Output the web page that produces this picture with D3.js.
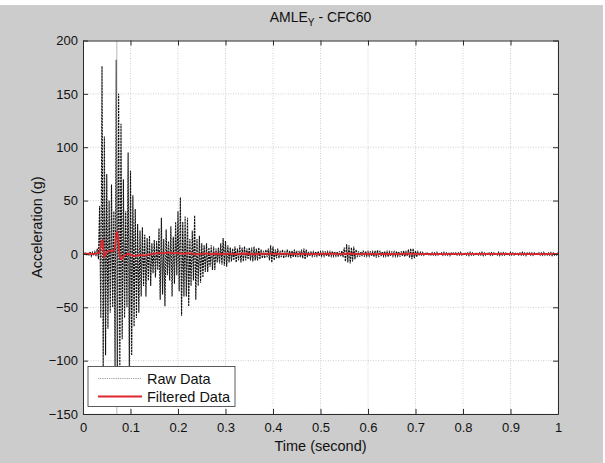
<!DOCTYPE html>
<html>
<head>
<meta charset="utf-8">
<script src="https://cdn.jsdelivr.net/npm/d3@7"></script>
<style>
  body { margin: 0; background: #fff; }
  svg { display: block; font-family: "Liberation Sans", Arial, sans-serif; }
</style>
</head>
<body>
<svg id="chart"></svg>
<script>
const rawStep = 0.005;
const rawHigh = [
  1, 1.5, 1, 2, 1.5, 2, 5, 45, 176, 110,
  75, 50, 65, 40, 182, 150, 122, 70, 40, 95,
  78, 55, 42, 28, 22, 25, 18, 15, 17, 10,
  13, 12, 24, 34, 14, 23, 12, 26, 16, 30,
  40, 53, 30, 35, 34, 14, 22, 36, 14, 17,
  10, 8, 10, 6, 8, 7, 5, 6, 10, 15,
  12, 8, 6, 5, 7, 5, 8, 6, 7, 5,
  6,
  6, 7, 5, 6, 4, 3, 4, 5, 8, 7,
  4, 5, 3, 4, 3, 4, 3, 3, 4, 3,
  3, 4, 5, 4, 2, 2.5, 2, 2, 2.5, 2,
  2, 2.5, 2, 2, 2.5, 2, 2, 2.5, 3, 6,
  9, 8, 6, 7, 4, 2.5, 2, 3, 2.5, 2,
  2.5, 2, 3, 3.5, 3, 2, 2.5, 2, 2, 2.5,
  2, 2.5, 2, 2.5, 3, 2, 4, 5, 5, 3,
  2, 1.5, 1.5, 1, 1.5, 1, 1.2, 1, 1.5, 1,
  1, 1.5, 1, 1.2, 1, 1.5, 1, 1, 1.5, 1,
  1.2, 1, 1.5, 1, 1, 1.2, 1, 1.5, 1, 1,
  1, 1.2, 1, 1, 1.5, 1, 1.2, 1, 1, 1.5,
  1, 1, 1.2, 1, 1.5, 1, 1, 1.2, 1, 1,
  1.2, 1, 1, 1.5, 1, 1, 1.2, 1, 1, 1
];
const rawLow = [
  -1, -1.5, -1, -2, -1.5, -2, -5, -60, -108, -95,
  -70, -55, -50, -105, -112, -110, -80, -60, -50, -105,
  -95, -68, -60, -55, -40, -30, -40, -25, -30, -18,
  -22, -15, -43, -38, -49, -20, -25, -40, -28, -20,
  -35, -58, -40, -40, -49, -30, -25, -43, -30, -27,
  -22, -17, -17, -12, -15, -15, -8, -9, -10, -11,
  -12, -8, -7, -6, -8, -6, -8, -7, -6, -5,
  -6,
  -7, -6, -6, -5, -4, -4, -3, -6, -8, -6,
  -4, -4, -3, -4, -3, -3, -4, -3, -3, -3,
  -3, -4, -5, -3, -2, -2, -2.5, -2, -2, -2,
  -2, -2, -2.5, -2, -2, -2, -2.5, -2, -3, -7,
  -8, -9, -7, -5, -3, -2.5, -2, -2.5, -2, -2,
  -2, -2.5, -3.5, -3, -2, -2, -2, -2.5, -2, -2,
  -2, -2, -2.5, -2, -2.5, -2, -3.5, -5, -4, -3,
  -1.5, -1, -1.2, -1, -1.5, -1, -1, -1.2, -1, -1,
  -1.2, -1, -1, -1.5, -1, -1.2, -1, -1, -1, -1.2,
  -1, -1.5, -1, -1, -1.2, -1, -1, -1.5, -1, -1,
  -1.2, -1, -1, -1, -1.5, -1, -1, -1.2, -1, -1,
  -1, -1.2, -1, -1, -1, -1.5, -1, -1, -1.2, -1,
  -1, -1, -1.2, -1, -1, -1, -1.5, -1, -1, -1
];
// single glitch sample that runs off both ends of the axes
const rawGlitchTime = 0.0712;
const rawGlitch = [260, -230];

const filteredTime = [
  0, 0.01, 0.02, 0.03, 0.034, 0.037, 0.039, 0.041, 0.043, 0.045, 0.047,
  0.05, 0.055, 0.06, 0.065, 0.068, 0.07, 0.072, 0.074, 0.076, 0.078, 0.081, 0.085,
  0.09, 0.095, 0.1,
  0.11, 0.12, 0.13, 0.14, 0.15, 0.16, 0.17, 0.18, 0.19, 0.2,
  0.21, 0.22, 0.23, 0.24, 0.25, 0.26, 0.27, 0.28, 0.29, 0.3,
  0.32, 0.34, 0.36, 0.38, 0.4, 0.42, 0.44, 0.46, 0.48, 0.5,
  0.52, 0.54, 0.56, 0.58, 0.6, 0.62, 0.64, 0.66, 0.68, 0.7,
  0.75, 0.8, 0.85, 0.9, 0.95, 1.0
];
const filteredValue = [
  0, 0.3, -0.2, 0.5, 1, 6, 12, 13, 4, -3, -1,
  2, 3, 2.5, 3, 8, 18, 21, 15, 4, -4, -5, -2,
  -1, 0.5, -1,
  -2, -1, -1.5, -0.5, 0, 1, 0.5, 1.5, 0.5, 1,
  0, 0.8, 0.2, -0.5, 0, 0.5, -0.3, 0.4, -0.3, 0.3,
  -0.2, 0.4, -0.3, 0.2, 0, 0.3, -0.2, 0.2, -0.1, 0.1,
  0.2, -0.2, 0.4, -0.1, 0.2, -0.1, 0.1, -0.1, 0.2, 0.1,
  -0.1, 0.1, 0, 0.1, -0.1, 0
];

const xTickValues = [0, 0.1, 0.2, 0.3, 0.4, 0.5, 0.6, 0.7, 0.8, 0.9, 1];
const xTickLabels = ["0", "0.1", "0.2", "0.3", "0.4", "0.5", "0.6", "0.7", "0.8", "0.9", "1"];
const yTickValues = [-150, -100, -50, 0, 50, 100, 150, 200];
const seriesNames = ["Raw Data", "Filtered Data"];

class SignalPlot {
    constructor(config_) {
        this.config = config_;
        this.initVis();
    }

    initVis() {
        const vis = this;
        const m = vis.config.margin;
        vis.width = vis.config.width - m.left - m.right;
        vis.height = vis.config.height - m.top - m.bottom;

        vis.svg = d3.select('#' + vis.config.svgElementId)
            .attr('width', vis.config.width)
            .attr('height', vis.config.height);

        // figure background
        vis.svg.append('rect')
            .attr('x', 0).attr('y', 5)
            .attr('width', 603).attr('height', vis.config.height - 5)
            .attr('fill', '#cccccc');

        vis.chart = vis.svg.append('g').attr('transform', `translate(${m.left},${m.top})`);

        vis.x = d3.scaleLinear().domain([0, 1]).range([0, vis.width]);
        vis.y = d3.scaleLinear().domain([-150, 200]).range([vis.height, 0]);

        vis.chart.append('rect')
            .attr('width', vis.width).attr('height', vis.height)
            .attr('fill', '#fff');

        vis.svg.append('clipPath').attr('id', 'plot-clip')
            .append('rect').attr('width', vis.width).attr('height', vis.height);

        this.renderVis();
    }

    renderVis() {
        const vis = this;

        // dotted grid
        const grid = vis.chart.append('g').attr('stroke', '#c4c4c4')
            .attr('stroke-dasharray', '1,1.5').attr('stroke-width', 0.8);
        grid.selectAll('.gx').data(xTickValues).join('line')
            .attr('x1', d => vis.x(d)).attr('x2', d => vis.x(d))
            .attr('y1', 0).attr('y2', vis.height);
        grid.selectAll('.gy').data(yTickValues).join('line')
            .attr('y1', d => vis.y(d)).attr('y2', d => vis.y(d))
            .attr('x1', 0).attr('x2', vis.width);

        const plot = vis.chart.append('g').attr('clip-path', 'url(#plot-clip)');

        // raw data: zig-zag through the read peaks and troughs
        const rawPts = [];
        rawHigh.forEach((h, i) => {
            rawPts.push([i * rawStep, h]);
            rawPts.push([i * rawStep + rawStep / 2, rawLow[i]]);
        });
        const line = d3.line().x(d => vis.x(d[0])).y(d => vis.y(d[1]));

        plot.append('path')
            .datum(rawPts)
            .attr('d', line)
            .attr('fill', 'none')
            .attr('stroke', '#111')
            .attr('stroke-width', 1.1)
            .attr('stroke-dasharray', '2.2,0.8');

        plot.append('path')
            .datum(rawGlitch.map(v => [rawGlitchTime, v]))
            .attr('d', line)
            .attr('fill', 'none')
            .attr('stroke', '#999')
            .attr('stroke-width', 0.7);

        plot.append('path')
            .datum(filteredTime.map((t, i) => [t, filteredValue[i]]))
            .attr('d', line)
            .attr('fill', 'none')
            .attr('stroke', '#e0262b')
            .attr('stroke-width', 1.8)
            .attr('stroke-linejoin', 'round');

        // axes with inward ticks on all four sides
        const axisStyle = g => {
            g.selectAll('.domain').attr('stroke', '#2b2b2b');
            g.selectAll('.tick line').attr('stroke', '#2b2b2b');
            g.selectAll('.tick text').attr('fill', '#111').attr('font-size', 13)
                .attr('font-family', '"Liberation Sans", Arial, sans-serif');
        };

        vis.chart.append('g')
            .attr('transform', `translate(0,${vis.height})`)
            .call(d3.axisBottom(vis.x).tickValues(xTickValues)
                .tickFormat((d, i) => xTickLabels[i])
                .tickSizeInner(-5).tickSizeOuter(0).tickPadding(9))
            .call(axisStyle);

        vis.chart.append('g')
            .call(d3.axisTop(vis.x).tickValues(xTickValues).tickFormat('')
                .tickSizeInner(-5).tickSizeOuter(0))
            .call(axisStyle);

        vis.chart.append('g')
            .call(d3.axisLeft(vis.y).tickValues(yTickValues)
                .tickSizeInner(-5).tickSizeOuter(0).tickPadding(5))
            .call(axisStyle);

        vis.chart.append('g')
            .attr('transform', `translate(${vis.width},0)`)
            .call(d3.axisRight(vis.y).tickValues(yTickValues).tickFormat('')
                .tickSizeInner(-5).tickSizeOuter(0))
            .call(axisStyle);

        // title and axis labels
        const title = vis.svg.append('text')
            .attr('x', vis.config.margin.left + vis.width / 2)
            .attr('y', 22)
            .attr('text-anchor', 'middle')
            .attr('font-size', 14)
            .attr('fill', '#111');
        title.append('tspan').text('AMLE');
        title.append('tspan').attr('font-size', 10).attr('dy', 4).text('Y');
        title.append('tspan').attr('dy', -4).text(' - CFC60');

        vis.svg.append('text')
            .attr('x', vis.config.margin.left + vis.width / 2)
            .attr('y', 451)
            .attr('text-anchor', 'middle')
            .attr('font-size', 14.5)
            .attr('fill', '#111')
            .text('Time (second)');

        vis.svg.append('text')
            .attr('transform', `translate(42,${vis.config.margin.top + vis.height / 2}) rotate(-90)`)
            .attr('text-anchor', 'middle')
            .attr('font-size', 14.5)
            .attr('fill', '#111')
            .text('Acceleration (g)');

        // legend
        const lg = vis.chart.append('g').attr('transform', 'translate(5,326)');
        lg.append('rect')
            .attr('width', 147).attr('height', 40)
            .attr('fill', '#fff').attr('stroke', '#333').attr('stroke-width', 0.8);
        lg.append('line')
            .attr('x1', 10).attr('x2', 54).attr('y1', 12).attr('y2', 12)
            .attr('stroke', '#888').attr('stroke-width', 0.8).attr('stroke-dasharray', '1.2,1');
        lg.append('line')
            .attr('x1', 10).attr('x2', 54).attr('y1', 30).attr('y2', 30)
            .attr('stroke', '#e0262b').attr('stroke-width', 1.8);
        lg.selectAll('.lab').data(seriesNames).join('text')
            .attr('x', 59).attr('y', (d, i) => 17 + i * 18)
            .attr('font-size', 14.5).attr('fill', '#111')
            .text(d => d);
    }
}

new SignalPlot({
    svgElementId: 'chart',
    width: 605,
    height: 463,
    margin: { top: 40.5, right: 47, bottom: 49, left: 83 }
});
</script>
</body>
</html>
